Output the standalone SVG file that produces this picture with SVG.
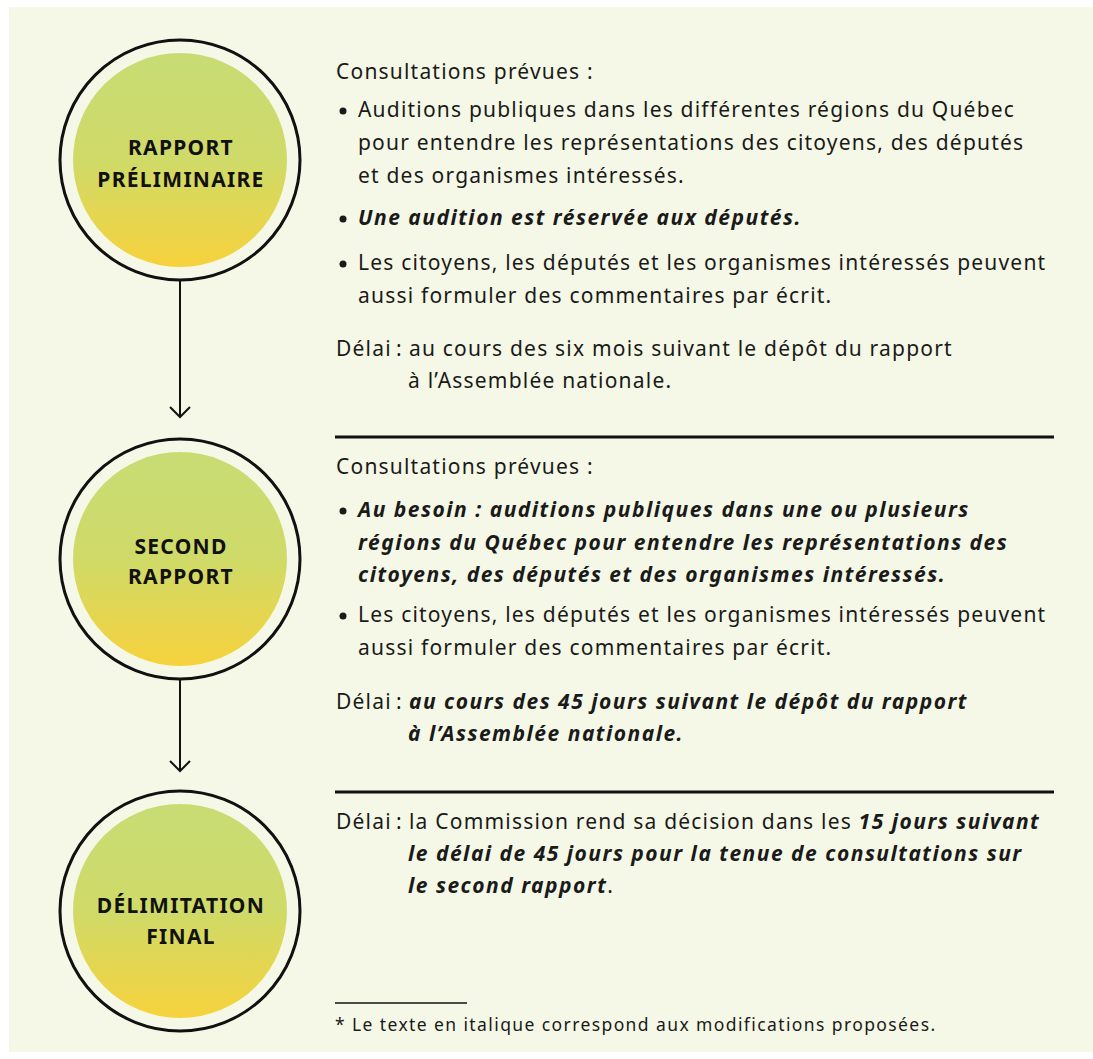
<svg xmlns="http://www.w3.org/2000/svg" width="1093" height="1059" viewBox="0 0 1093 1059">
<defs>
<linearGradient id="g" x1="0" y1="0" x2="0" y2="1">
<stop offset="0" stop-color="#c8dc74"/>
<stop offset="0.5" stop-color="#cfda68"/>
<stop offset="1" stop-color="#f7d23c"/>
</linearGradient>
<style>
.ring{fill:#f5f8e6;stroke:#111;stroke-width:3}
.core{fill:url(#g)}
.lbl{font-family:"Noto Sans","Open Sans",sans-serif;font-weight:700;font-size:21px;letter-spacing:1.3px;fill:#111;text-anchor:middle}
.t{font-family:"Noto Sans","Open Sans",sans-serif;font-size:21px;letter-spacing:1.2px;fill:#1a1a1a}
.i{font-style:italic;font-weight:700;letter-spacing:1.5px}
.f{font-family:"Noto Sans","Open Sans",sans-serif;font-size:17.5px;letter-spacing:1.4px;fill:#1a1a1a}
.rule{stroke:#111;stroke-width:3}
.conn{stroke:#111;stroke-width:2;fill:none}
</style>
</defs>
<rect x="0" y="0" width="1093" height="1059" fill="#ffffff"/>
<rect x="9" y="7" width="1084" height="1045" fill="#f5f8e6"/>

<g id="connectors">
<path class="conn" d="M180 281 V417 M170 407 L180 417 L190 407"/>
<path class="conn" d="M180 680 V771 M170 761 L180 771 L190 761"/>
</g>

<g id="node1">
<circle class="ring" cx="180" cy="160" r="120"/>
<circle class="core" cx="180" cy="160" r="107"/>
<text class="lbl" x="181" y="155">RAPPORT</text>
<text class="lbl" x="181" y="187">PRÉLIMINAIRE</text>
</g>
<g id="node2">
<circle class="ring" cx="180" cy="559" r="120"/>
<circle class="core" cx="180" cy="559" r="107"/>
<text class="lbl" x="181" y="554">SECOND</text>
<text class="lbl" x="181" y="584">RAPPORT</text>
</g>
<g id="node3">
<circle class="ring" cx="180" cy="911" r="120"/>
<circle class="core" cx="180" cy="911" r="107"/>
<text class="lbl" x="181" y="913">DÉLIMITATION</text>
<text class="lbl" x="181" y="944">FINAL</text>
</g>

<g id="text1">
<text class="t" x="336" y="79">Consultations prévues :</text>
<circle cx="343" cy="111" r="3.5" fill="#1a1a1a"/>
<text class="t" x="358" y="117">Auditions publiques dans les différentes régions du Québec</text>
<text class="t" x="358" y="150">pour entendre les représentations des citoyens, des députés</text>
<text class="t" x="358" y="183">et des organismes intéressés.</text>
<circle cx="343" cy="219" r="3.5" fill="#1a1a1a"/>
<text class="t i" x="358" y="225">Une audition est réservée aux députés.</text>
<circle cx="343" cy="264" r="3.5" fill="#1a1a1a"/>
<text class="t" x="358" y="270">Les citoyens, les députés et les organismes intéressés peuvent</text>
<text class="t" x="358" y="303">aussi formuler des commentaires par écrit.</text>
<text class="t" x="336" y="356">Délai<tspan x="396">:</tspan><tspan x="409">au cours des six mois suivant le dépôt du rapport</tspan></text>
<text class="t" x="408" y="388">à l’Assemblée nationale.</text>
</g>
<line class="rule" x1="335" y1="437" x2="1054" y2="437"/>

<g id="text2">
<text class="t" x="336" y="474">Consultations prévues :</text>
<circle cx="343" cy="511" r="3.5" fill="#1a1a1a"/>
<text class="t i" x="358" y="517">Au besoin : auditions publiques dans une ou plusieurs</text>
<text class="t i" x="358" y="550">régions du Québec pour entendre les représentations des</text>
<text class="t i" x="358" y="582">citoyens, des députés et des organismes intéressés.</text>
<circle cx="343" cy="616" r="3.5" fill="#1a1a1a"/>
<text class="t" x="358" y="622">Les citoyens, les députés et les organismes intéressés peuvent</text>
<text class="t" x="358" y="655">aussi formuler des commentaires par écrit.</text>
<text class="t" x="336" y="709">Délai<tspan x="396">:</tspan><tspan class="i" x="409">au cours des 45 jours suivant le dépôt du rapport</tspan></text>
<text class="t i" x="408" y="741">à l’Assemblée nationale.</text>
</g>
<line class="rule" x1="335" y1="792" x2="1054" y2="792"/>

<g id="text3">
<text class="t" x="336" y="829">Délai<tspan x="396">:</tspan><tspan x="409">la Commission rend sa décision dans les </tspan><tspan class="i">15 jours suivant</tspan></text>
<text class="t i" x="408" y="861">le délai de 45 jours pour la tenue de consultations sur</text>
<text class="t" x="408" y="893"><tspan class="i">le second rapport</tspan>.</text>
</g>

<line x1="335" y1="1003" x2="467" y2="1003" stroke="#111" stroke-width="1.5"/>
<text class="f" x="335" y="1031">* Le texte en italique correspond aux modifications proposées.</text>
</svg>
